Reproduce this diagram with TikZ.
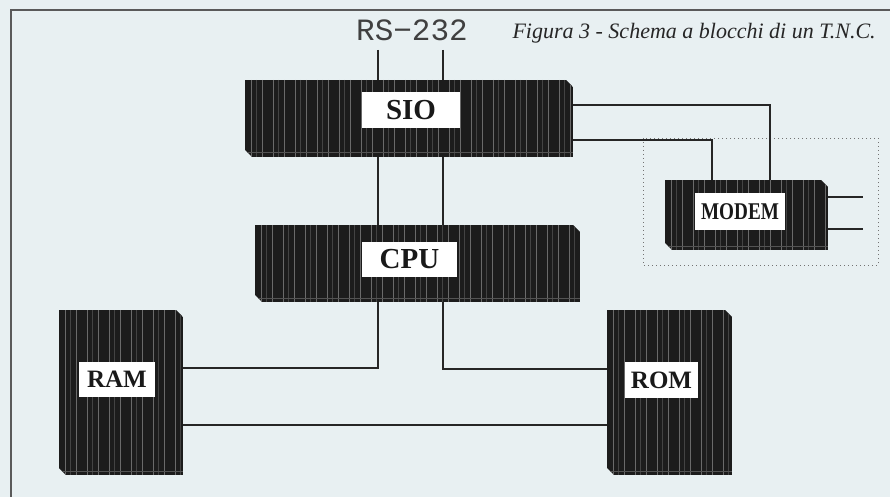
\documentclass[tikz,border=0pt]{standalone}
\usepackage{fontspec}
\setmainfont{Liberation Serif}
\newfontfamily\plotfont{Liberation Mono}
\usepackage{xcolor}
\definecolor{paperbg}{HTML}{E8F0F2}
\definecolor{blockink}{HTML}{1C1C1C}
\definecolor{stripeink}{HTML}{6A6A6A}
\definecolor{wireink}{HTML}{262626}
\definecolor{frameink}{HTML}{5A5A5A}

\begin{document}
\begin{tikzpicture}[x=1pt, y=-1pt,
    wire/.style={wireink, line width=1.2pt},
    blk/.style={inner sep=0pt, outer sep=0pt, draw=none,
      path picture={
        \begin{scope}
          \clip (path picture bounding box.north west)
            -- ([xshift=-7pt]path picture bounding box.north east)
            -- ([yshift=-7pt]path picture bounding box.north east)
            -- (path picture bounding box.south east)
            -- ([xshift=7pt]path picture bounding box.south west)
            -- ([yshift=7pt]path picture bounding box.south west) -- cycle;
          \fill[blockink] (path picture bounding box.north west)
            rectangle (path picture bounding box.south east);
          \foreach \s in {6,17,...,336}
            \draw[stripeink, line width=0.8pt]
              ([xshift=\s pt]path picture bounding box.north west)
              -- ([xshift=\s pt]path picture bounding box.south west);
          \foreach \s in {11,33,...,341}
            \draw[stripeink!50!blockink, line width=0.5pt]
              ([xshift=\s pt]path picture bounding box.north west)
              -- ([xshift=\s pt]path picture bounding box.south west);
          \draw[stripeink!70!blockink, line width=1pt]
            ([yshift=4pt]path picture bounding box.south west)
            -- ([yshift=4pt]path picture bounding box.south east);
        \end{scope}}},
    lbl/.style={fill=white, inner sep=0pt, font=\bfseries, text=black!90}]

  %% sfondo e cornice
  \fill[paperbg] (0,0) rectangle (890,497);
  \useasboundingbox (0,0) rectangle (890,497);
  \draw[frameink, line width=1.5pt] (11,497) -- (11,10) -- (890,10);

  %% didascalia e connettore seriale
  \node[anchor=west, font=\itshape\fontsize{22}{24}\selectfont, text=black!85]
    (caption) at (509,33) {Figura 3 - Schema a blocchi di un T.N.C.};
  \node[font=\plotfont\fontsize{31}{34}\selectfont, text=black!75]
    (rs) at (412,30) {RS−232};

  %% riquadro tratteggiato del modem
  \draw[black!55, line width=0.9pt, dash pattern=on 1pt off 3pt]
    (643,138) rectangle (878,265);

  %% blocchi
  \node[blk, minimum width=328pt, minimum height=77pt]  (sio)   at (409,118.5) {};
  \node[blk, minimum width=325pt, minimum height=77pt]  (cpu)   at (417.5,263.5) {};
  \node[blk, minimum width=163pt, minimum height=70pt]  (modem) at (746.5,215) {};
  \node[blk, minimum width=124pt, minimum height=165pt] (ram)   at (121,392.5) {};
  \node[blk, minimum width=125pt, minimum height=165pt] (rom)   at (669.5,392.5) {};

  %% etichette
  \node[lbl, minimum width=98pt, minimum height=36pt, font=\bfseries\fontsize{29}{30}\selectfont]
    (siolbl) at (411,110) {SIO};
  \node[lbl, minimum width=95pt, minimum height=35pt, font=\bfseries\fontsize{29}{30}\selectfont]
    (cpulbl) at (409.5,259.5) {CPU};
  \node[lbl, minimum width=76pt, minimum height=35pt, font=\bfseries\fontsize{25}{26}\selectfont]
    (ramlbl) at (117,379.5) {RAM};
  \node[lbl, minimum width=73pt, minimum height=36pt, font=\bfseries\fontsize{25}{26}\selectfont]
    (romlbl) at (661.5,380) {ROM};
  \node[lbl, minimum width=90pt, minimum height=37pt, font=\bfseries\fontsize{24}{25}\selectfont]
    (modemlbl) at (740,211.5) {\scalebox{0.8}[1]{MODEM}};

  %% collegamenti
  \coordinate (rsa) at (378,50);
  \coordinate (rsb) at (443,50);
  \coordinate (lna) at (863,197);
  \coordinate (lnb) at (863,229);

  \draw[wire] (rsa) -- (rsa |- sio.north);
  \draw[wire] (rsb) -- (rsb |- sio.north);
  \draw[wire] (rsa |- sio.south) -- (rsa |- cpu.north);
  \draw[wire] (rsb |- sio.south) -- (rsb |- cpu.north);
  \draw[wire] ([yshift=13.5pt]sio.east) -| ([xshift=23.5pt]modem.north);
  \draw[wire] ([yshift=-21.5pt]sio.east) -| ([xshift=-34.5pt]modem.north);
  \draw[wire] (lna -| modem.east) -- (lna);
  \draw[wire] (lnb -| modem.east) -- (lnb);
  \draw[wire] (rsa |- cpu.south) |- ([yshift=24.5pt]ram.east);
  \draw[wire] (rsb |- cpu.south) |- ([yshift=23.5pt]rom.west);
  \draw[wire] ([yshift=-32.5pt]ram.east) -- ([yshift=-32.5pt]rom.west);

\end{tikzpicture}
\end{document}
